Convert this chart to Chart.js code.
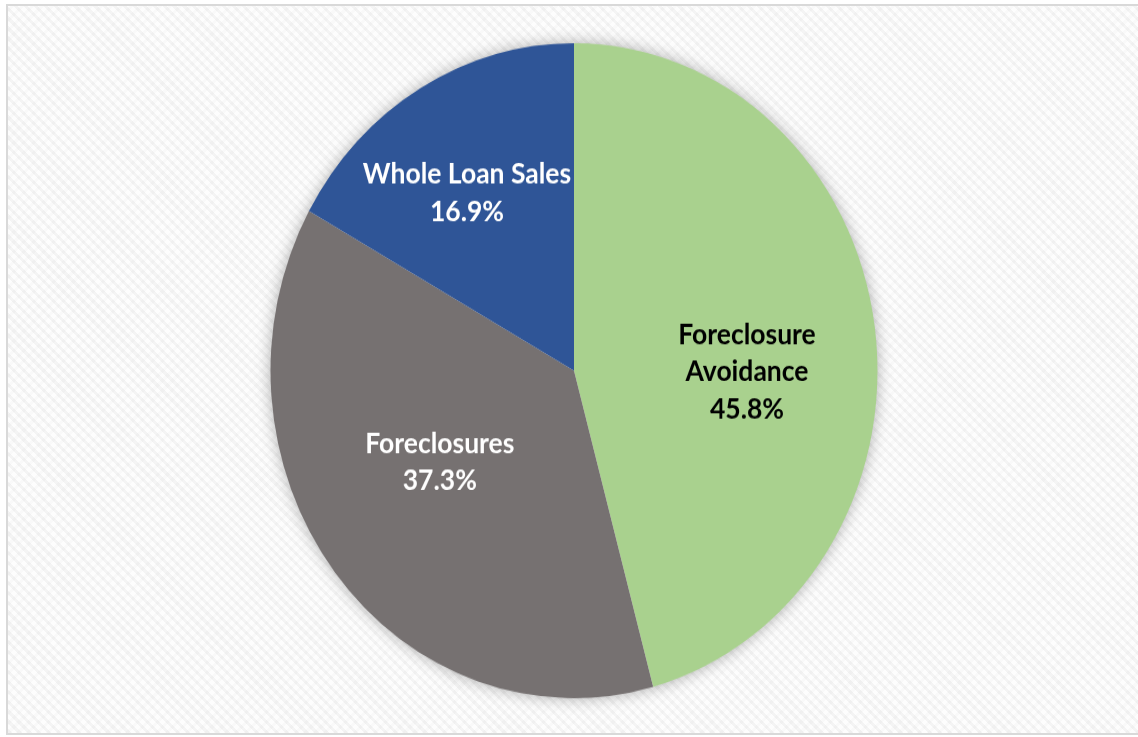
<!DOCTYPE html>
<html>
<head>
<meta charset="utf-8">
<title>Disposition of loans</title>
<script src="https://cdn.jsdelivr.net/npm/chart.js@4"></script>
<style>
  html, body { margin: 0; padding: 0; background: #fff; width: 1138px; height: 737px; overflow: hidden; }
  #frame {
    position: absolute; left: 6px; top: 4px; width: 1200px; height: 727px;
    border: 2px solid #d9d9d9; border-right: none;
    background:
      repeating-linear-gradient(45deg, rgba(0,0,0,0.035) 0 3px, rgba(0,0,0,0) 3px 7px),
      repeating-linear-gradient(-45deg, rgba(0,0,0,0.015) 0 3px, rgba(0,0,0,0) 3px 7px),
      #fdfdfd;
  }
  /* the chart is drawn at 1138x683 and stretched vertically to fill the page */
  #wrap { position: absolute; left: 0; top: 0; width: 1138px; height: 683px; transform-origin: 0 0; transform: scaleY(1.0791); }
</style>
</head>
<body>
<div id="frame"></div>
<div id="wrap"><canvas id="pie"></canvas></div>
<script>
// Slices, clockwise from 12 o'clock
const categories = [['Foreclosure', 'Avoidance'], ['Foreclosures'], ['Whole Loan Sales']];
const shares = [45.8, 37.3, 16.9];
const sliceColors = ['#a9d18e', '#767171', '#2f5597'];
const labelColors = ['#000000', '#ffffff', '#ffffff'];

// label anchor along each slice: fraction of radius, angular nudge in degrees
const labelAnchor = [
  { rf: 0.57, da: 8.0 },
  { rf: 0.523, da: 5.7 },
  { rf: 0.647, da: -2.6 }
];

const pieShadow = {
  id: 'pieShadow',
  beforeDatasetsDraw(chart) {
    const arc = chart.getDatasetMeta(0).data[0];
    if (!arc) return;
    const p = arc.getProps(['x', 'y', 'outerRadius'], true);
    const ctx = chart.ctx;
    ctx.save();
    ctx.shadowColor = 'rgba(0,0,0,0.35)';
    ctx.shadowBlur = 16;
    ctx.fillStyle = '#ffffff';
    ctx.beginPath();
    ctx.arc(p.x, p.y, p.outerRadius - 1, 0, Math.PI * 2);
    ctx.fill();
    ctx.restore();
  }
};

const sliceLabels = {
  id: 'sliceLabels',
  afterDatasetsDraw(chart) {
    const ctx = chart.ctx;
    const meta = chart.getDatasetMeta(0);
    const lineH = 34.5;
    meta.data.forEach((arc, i) => {
      const p = arc.getProps(['x', 'y', 'startAngle', 'endAngle', 'outerRadius'], true);
      const a = (p.startAngle + p.endAngle) / 2 + labelAnchor[i].da * Math.PI / 180;
      const r = p.outerRadius * labelAnchor[i].rf;
      const cx = p.x + Math.cos(a) * r;
      const cy = p.y + Math.sin(a) * r;
      const lines = [...chart.data.labels[i], chart.data.datasets[0].data[i].toFixed(1) + '%'];
      ctx.save();
      ctx.font = 'bold 26.5px Lato';
      ctx.fillStyle = labelColors[i];
      ctx.textAlign = 'center';
      ctx.textBaseline = 'middle';
      const y0 = cy - (lines.length - 1) * lineH / 2;
      lines.forEach((t, k) => ctx.fillText(t, cx, y0 + k * lineH));
      ctx.restore();
    });
  }
};

function draw() {
  new Chart(document.getElementById('pie'), {
    type: 'pie',
    data: {
      labels: categories,
      datasets: [{
        data: shares,
        backgroundColor: sliceColors,
        borderWidth: 0
      }]
    },
    options: {
      responsive: true,
      maintainAspectRatio: false,
      animation: false,
      layout: { padding: { left: 10, right: 0, top: 40, bottom: 36 } },
      plugins: { legend: { display: false }, tooltip: { enabled: false } }
    },
    plugins: [pieShadow, sliceLabels]
  });
}

document.fonts.load('bold 26.5px Lato').then(draw, draw);
</script>
</body>
</html>
